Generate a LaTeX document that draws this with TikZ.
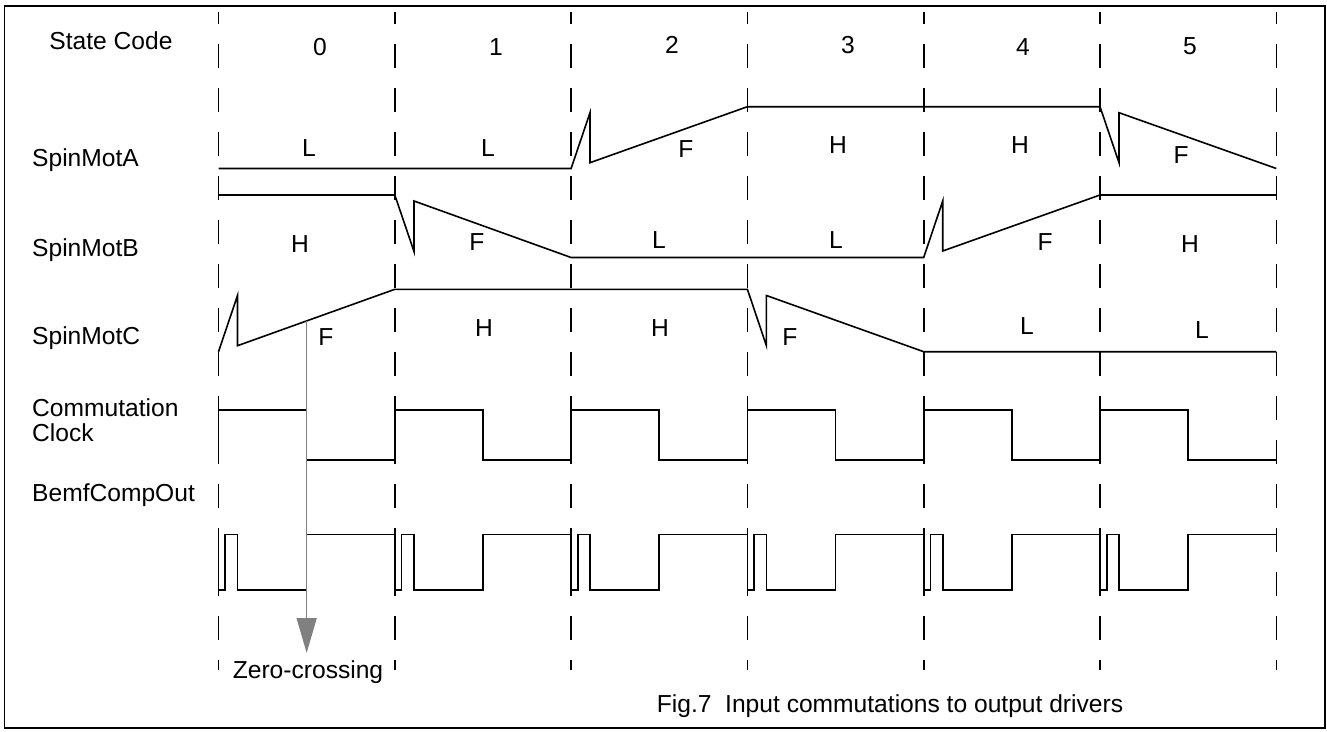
\documentclass[tikz,border=0pt]{standalone}
\usepackage{fontspec}
\setmainfont{Liberation Sans}
\usetikzlibrary{arrows.meta}
\definecolor{zcgray}{RGB}{128,128,128}
\tikzset{
  wave/.style={line width=1.6pt, line join=miter, black},
  gridline/.style={line width=1.6pt, dash pattern=on 24pt off 20pt, dash phase=12pt},
  frame/.style={line width=1.8pt},
  lbl/.style={font=\fontsize{24.6}{28}\selectfont, inner sep=0pt},
  rowlbl/.style={lbl, anchor=west, align=left},
  zcarrow/.style={draw=zcgray, line width=1.5pt, -{Triangle[width=20pt,length=35pt,fill=zcgray]}}
}
\begin{document}
\begin{tikzpicture}[x=1pt,y=-1pt]
\useasboundingbox (0,0) rectangle (1327,731);
\draw[frame] (4.5,6) rectangle (1325,728);
% dashed grid lines
\foreach \i in {0,...,6} {
  \coordinate (gt\i) at ({218.5+176.3*\i},12);
  \coordinate (gb\i) at ({218.5+176.3*\i},670);
  \draw[gridline] (gt\i) -- (gb\i);
}
% header
\node[lbl] (sc) at (111,41) {State Code};
\node[lbl] (s0) at (320,47) {0};
\node[lbl] (s1) at (496,47) {1};
\node[lbl] (s2) at (672,45) {2};
\node[lbl] (s3) at (848,45) {3};
\node[lbl] (s4) at (1023,47) {4};
\node[lbl] (s5) at (1190,46) {5};
% row labels
\node[rowlbl] (ra) at (32,160) {SpinMotA};
\node[rowlbl] (rb) at (32,250) {SpinMotB};
\node[rowlbl] (rc) at (32,338) {SpinMotC};
\node[rowlbl] (rd) at (32,420) {Commutation\\[-3pt]Clock};
\node[rowlbl] (re) at (32,495) {BemfCompOut};
% SpinMotA
\draw[wave] (218.5,168.5) -- (571.1,168.5) -- (590,112.7) -- (590,162.7) -- (747.4,106.7)
  -- (1100,106.7) -- (1119,162.7) -- (1119,112.7) -- (1276.3,168.5);
\node[lbl] (a0) at (309,148) {L};
\node[lbl] (a1) at (488,148) {L};
\node[lbl] (a2) at (686,149) {F};
\node[lbl] (a3) at (838,145) {H};
\node[lbl] (a4) at (1020,145) {H};
\node[lbl] (a5) at (1181,155) {F};
% SpinMotB
\draw[wave] (218.5,195) -- (394.8,195) -- (414,251.5) -- (414,201) -- (571.1,257.5)
  -- (923.7,257.5) -- (942.7,201) -- (942.7,251) -- (1100,195) -- (1276.3,195);
\node[lbl] (b0) at (300,244) {H};
\node[lbl] (b1) at (477,242) {F};
\node[lbl] (b2) at (659,240) {L};
\node[lbl] (b3) at (836,240) {L};
\node[lbl] (b4) at (1045,242) {F};
\node[lbl] (b5) at (1190,244) {H};
% SpinMotC
\draw[wave] (218.5,351.7) -- (237.5,295.5) -- (237.5,345.7) -- (394.8,289.3)
  -- (747.4,289.3) -- (766.4,345.7) -- (766.4,295.5) -- (923.7,351.7) -- (1276.3,351.7);
\node[lbl] (c0) at (326,337) {F};
\node[lbl] (c1) at (484,328) {H};
\node[lbl] (c2) at (660,328) {H};
\node[lbl] (c3) at (790,337) {F};
\node[lbl] (c4) at (1027,326) {L};
\node[lbl] (c5) at (1202,330) {L};
% Commutation clock
\draw[wave] (218.5,460)
  \foreach \i in {0,...,5} {
    -- ({218.5+176.3*\i},410) -- ({306.65+176.3*\i},410) -- ({306.65+176.3*\i},460) -- ({394.8+176.3*\i},460)
  };
% BemfCompOut
\draw[wave] (218.5,534.3)
  \foreach \i in {0,...,5} {
    -- ({218.5+176.3*\i},590) -- ({225.2+176.3*\i},590) -- ({225.2+176.3*\i},534.3)
    -- ({237.5+176.3*\i},534.3) -- ({237.5+176.3*\i},590) -- ({306.65+176.3*\i},590)
    -- ({306.65+176.3*\i},534.3) -- ({394.8+176.3*\i},534.3)
  };
% zero crossing arrow
\coordinate (zc) at (306.65,321);
\coordinate (zt) at (306.65,653);
\draw[zcarrow] (zc) -- (zt);
\node[lbl] (zl) at (308,672) {Zero-crossing};
% caption
\node[lbl] (cap) at (890,706) {Fig.7\ \ Input commutations to output drivers};
\end{tikzpicture}
\end{document}
